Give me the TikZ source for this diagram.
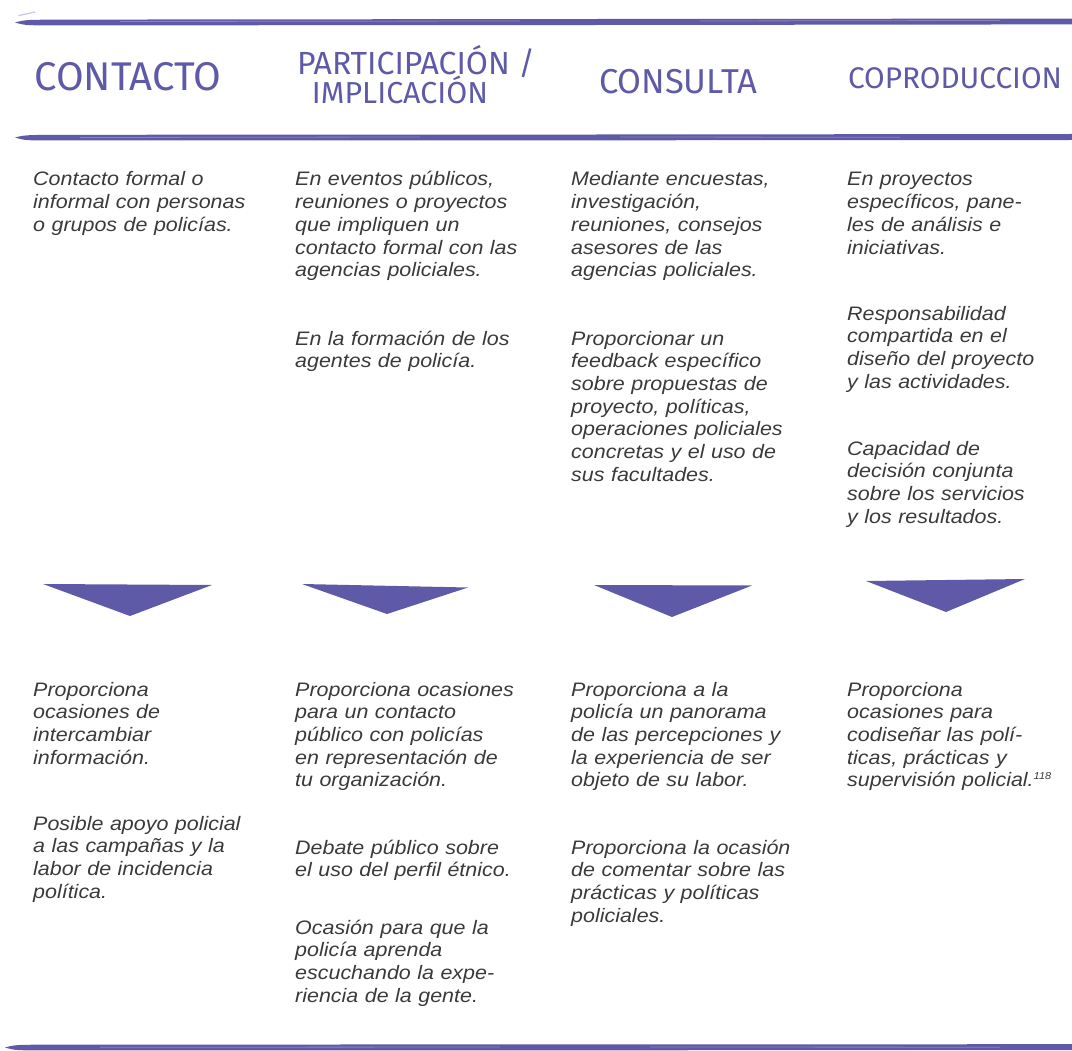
\documentclass[tikz,border=0pt]{standalone}
\usepackage{fontspec}
\setmainfont{Liberation Sans}
\newfontfamily\bodyfont[FakeStretch=1.1]{Liberation Sans}
\newfontfamily\headfont{Fira Sans}
\definecolor{ink}{HTML}{5F5AA8}
\definecolor{bodygray}{HTML}{3A3A3A}
\tikzset{
  body/.style={anchor=base west, inner sep=0pt, text width=260pt, align=left,
    text=bodygray, font=\bodyfont\itshape\fontsize{19.5}{22.7}\selectfont},
  head/.style={anchor=base, inner sep=0pt, text=ink,
    font=\headfont\fontsize{34}{34}\selectfont},
  brush/.style={fill=ink},
  streak/.style={draw=white, opacity=0.25, line width=0.8pt},
  tip/.style={fill=ink},
}
\begin{document}
\begin{tikzpicture}[x=1pt,y=-1pt]
\useasboundingbox (0,0) rectangle (1072,1051);

% brush rules
\draw[ink!35, line width=1.2pt, line cap=round] (19,15.5) -- (35,12);
\fill[brush] (15,22.5) .. controls (25,19.8) .. (60,19.6) -- (600,19) -- (1072,18.6)
  -- (1072,24.4) -- (600,25) -- (60,25.4) .. controls (25,25.4) .. (15,22.5) -- cycle;
\draw[streak] (120,21.5) -- (520,21);
\draw[streak] (700,21) -- (1000,20.5);
\fill[brush] (15,137.5) .. controls (25,135) .. (60,134.8) -- (600,134.5) -- (1072,134)
  -- (1072,140) -- (600,140.3) -- (60,140.5) .. controls (25,140.5) .. (15,137.5) -- cycle;
\draw[streak] (80,137.5) -- (420,137);
\draw[streak] (620,137) -- (900,137.3);
\fill[brush] (5,1047.5) .. controls (15,1044.8) .. (50,1044.6) -- (600,1044.4) -- (1072,1044.2)
  -- (1072,1050) -- (600,1050.3) -- (50,1050.4) .. controls (15,1050.4) .. (5,1047.5) -- cycle;
\draw[streak] (100,1047.3) -- (500,1047);
\draw[streak] (650,1047) -- (1000,1047.2);

% column headings
\node[head] (h1) at (128,91) {\resizebox{187pt}{!}{CONTACTO}};
\node[head] (h2) at (416,75) {\resizebox{238pt}{!}{PARTICIPACIÓN /}};
\node[head] (h2b) at (400,104) {\resizebox{176pt}{!}{IMPLICACIÓN}};
\node[head] (h3) at (678,94) {\resizebox{158pt}{!}{CONSULTA}};
\node[head] (h4) at (955,89) {\resizebox{214pt}{!}{COPRODUCCION}};

% upper texts
\node[body] (c1a) at (33,186) {Contacto formal o\\informal con personas\\o grupos de policías.};
\node[body] (c2a) at (295,186) {En eventos públicos,\\reuniones o proyectos\\que impliquen un\\contacto formal con las\\agencias policiales.};
\node[body] (c2b) at (295,345) {En la formación de los\\agentes de policía.};
\node[body] (c3a) at (571,186) {Mediante encuestas,\\investigación,\\reuniones, consejos\\asesores de las\\agencias policiales.};
\node[body] (c3b) at (571,345) {Proporcionar un\\feedback específico\\sobre propuestas de\\proyecto, políticas,\\operaciones policiales\\concretas y el uso de\\sus facultades.};
\node[body] (c4a) at (847,186) {En proyectos\\específicos, pane-\\les de análisis e\\iniciativas.};
\node[body] (c4b) at (847,320) {Responsabilidad\\compartida en el\\diseño del proyecto\\y las actividades.};
\node[body] (c4c) at (847,455) {Capacidad de\\decisión conjunta\\sobre los servicios\\y los resultados.};

% downward pointers
\fill[tip] (43,584) -- (212,585) -- (130,616) -- cycle;
\fill[tip] (302,584) -- (468,587.5) -- (387,614) -- cycle;
\fill[tip] (594,585) -- (752,585.5) -- (672,617) -- cycle;
\fill[tip] (866,581) -- (1025,579) -- (946,612) -- cycle;

% lower texts
\node[body] (d1a) at (33,696) {Proporciona\\ocasiones de\\intercambiar\\información.};
\node[body] (d1b) at (33,830) {Posible apoyo policial\\a las campañas y la\\labor de incidencia\\política.};
\node[body] (d2a) at (295,696) {Proporciona ocasiones\\para un contacto\\público con policías\\en representación de\\tu organización.};
\node[body] (d2b) at (295,854) {Debate público sobre\\el uso del perfil étnico.};
\node[body] (d2c) at (295,934) {Ocasión para que la\\policía aprenda\\escuchando la expe-\\riencia de la gente.};
\node[body] (d3a) at (571,696) {Proporciona a la\\policía un panorama\\de las percepciones y\\la experiencia de ser\\objeto de su labor.};
\node[body] (d3b) at (571,854) {Proporciona la ocasión\\de comentar sobre las\\prácticas y políticas\\policiales.};
\node[body] (d4a) at (847,696) {Proporciona\\ocasiones para\\codiseñar las polí-\\ticas, prácticas y\\supervisión policial.\textsuperscript{\fontsize{10}{10}\selectfont 118}};
\end{tikzpicture}
\end{document}
